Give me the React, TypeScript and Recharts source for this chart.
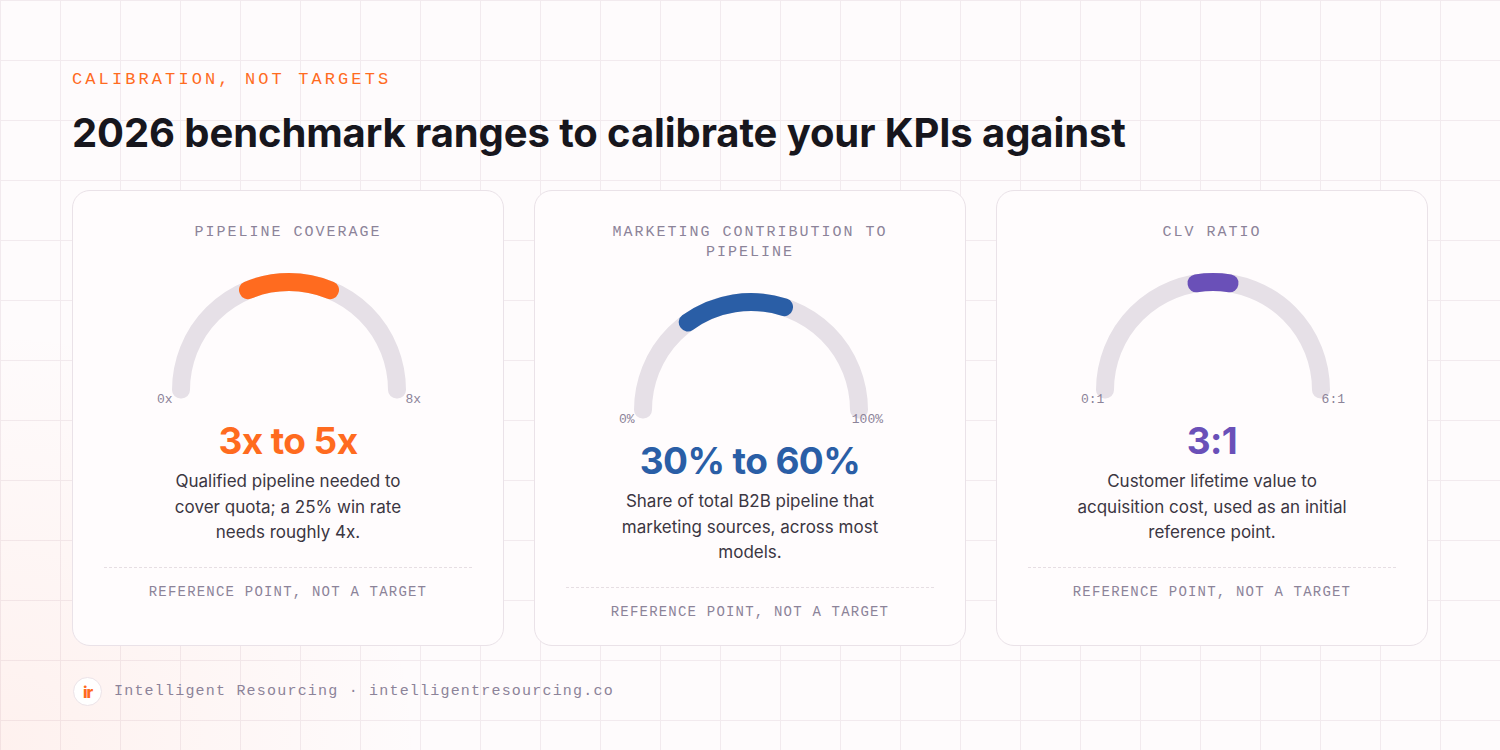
import React from 'react';
import { PieChart, Pie, Cell } from 'recharts';

// benchmark cards
const cardTitles = [['PIPELINE COVERAGE'], ['MARKETING CONTRIBUTION TO', 'PIPELINE'], ['CLV RATIO']];
const rangeLow = [3, 30, 2.7];
const rangeHigh = [5, 60, 3.3];
const scaleMax = [8, 100, 6];
const minLabels = ['0x', '0%', '0:1'];
const maxLabels = ['8x', '100%', '6:1'];
const headlines = ['3x to 5x', '30% to 60%', '3:1'];
const descriptions = [
  ['Qualified pipeline needed to', 'cover quota; a 25% win rate', 'needs roughly 4x.'],
  ['Share of total B2B pipeline that', 'marketing sources, across most', 'models.'],
  ['Customer lifetime value to', 'acquisition cost, used as an initial', 'reference point.'],
];
const accentColors = ['#FF6B1F', '#2A5EA6', '#6A50B8'];

const TRACK = '#E6E0E7';
const MUTED = '#8C8399';
const MONO = '"Liberation Mono", "DejaVu Sans Mono", monospace';
const SANS = 'Inter, "Noto Sans", sans-serif';

const Gauge = ({ low, high, max, color, minLabel, maxLabel }: any) => {
  const track = [{ name: 'track', value: max }];
  const band = [
    { name: 'below', value: low },
    { name: 'range', value: high - low },
    { name: 'above', value: max - high },
  ];
  const labelStyle: React.CSSProperties = {
    position: 'absolute',
    top: 141,
    fontFamily: MONO,
    fontSize: 13,
    lineHeight: '18px',
    color: MUTED,
  };
  return (
    <div style={{ position: 'relative', width: 370, height: 160, margin: '9px auto 0' }}>
      <PieChart width={370} height={160} margin={{ top: 0, right: 0, bottom: 0, left: 0 }}>
        <Pie
          data={track}
          dataKey="value"
          cx={185}
          cy={140}
          startAngle={180}
          endAngle={0}
          innerRadius={107.5}
          outerRadius={108.5}
          isAnimationActive={false}
        >
          <Cell fill={TRACK} stroke={TRACK} strokeWidth={17} strokeLinejoin="round" />
        </Pie>
        <Pie
          data={band}
          dataKey="value"
          cx={185}
          cy={140}
          startAngle={180}
          endAngle={0}
          innerRadius={107.5}
          outerRadius={108.5}
          isAnimationActive={false}
        >
          {band.map((d, i) => (
            <Cell
              key={d.name}
              fill={i === 1 ? color : 'none'}
              stroke={i === 1 ? color : 'none'}
              strokeWidth={i === 1 ? 17 : 0}
              strokeLinejoin="round"
            />
          ))}
        </Pie>
      </PieChart>
      <div style={{ ...labelStyle, left: 53 }}>{minLabel}</div>
      <div style={{ ...labelStyle, right: 53, textAlign: 'right' }}>{maxLabel}</div>
    </div>
  );
};

const Card = ({ i }: { i: number }) => (
  <div
    style={{
      width: 432,
      height: 456,
      boxSizing: 'border-box',
      border: '1.5px solid #EAE2E8',
      borderRadius: 18,
      background: '#FFFCFD',
      padding: '30px 31px 0',
      textAlign: 'center',
    }}
  >
    <div
      style={{
        position: 'relative',
        top: 2,
        fontFamily: MONO,
        fontSize: 15,
        lineHeight: '20px',
        letterSpacing: 2,
        color: MUTED,
      }}
    >
      {cardTitles[i].map((t) => (
        <div key={t}>{t}</div>
      ))}
    </div>
    <Gauge
      low={rangeLow[i]}
      high={rangeHigh[i]}
      max={scaleMax[i]}
      color={accentColors[i]}
      minLabel={minLabels[i]}
      maxLabel={maxLabels[i]}
    />
    <div
      style={{
        marginTop: 9,
        fontFamily: SANS,
        fontWeight: 700,
        fontSize: 37,
        lineHeight: '44px',
        letterSpacing: -0.6,
        color: accentColors[i],
      }}
    >
      {headlines[i]}
    </div>
    <div style={{ marginTop: 6, fontFamily: SANS, fontSize: 17, lineHeight: '25.5px', color: '#3B3642' }}>
      {descriptions[i].map((t) => (
        <div key={t}>{t}</div>
      ))}
    </div>
    <div style={{ marginTop: 21, borderTop: '1px dashed #E6DEE3' }} />
    <div
      style={{
        marginTop: 15,
        fontFamily: MONO,
        fontSize: 14,
        lineHeight: '18px',
        letterSpacing: 1.2,
        color: MUTED,
      }}
    >
      REFERENCE POINT, NOT A TARGET
    </div>
  </div>
);

export default function App() {
  return (
    <div
      style={{
        position: 'absolute',
        left: 0,
        top: 0,
        width: 1500,
        height: 750,
        overflow: 'hidden',
        backgroundColor: '#FEFBFC',
        backgroundImage:
          'radial-gradient(circle at 0% 100%, rgba(255,140,100,0.09), rgba(255,140,100,0) 420px), linear-gradient(to right, #F2EAEE 1px, transparent 1px), linear-gradient(to bottom, #F2EAEE 1px, transparent 1px)',
        backgroundSize: '100% 100%, 60px 60px, 60px 60px',
      }}
    >
      <div
        style={{
          position: 'absolute',
          left: 72,
          top: 70,
          fontFamily: MONO,
          fontSize: 17,
          lineHeight: '20px',
          letterSpacing: 3.1,
          color: '#FF6B1F',
        }}
      >
        CALIBRATION, NOT TARGETS
      </div>
      <div
        style={{
          position: 'absolute',
          left: 72,
          top: 108,
          fontFamily: SANS,
          fontWeight: 700,
          fontSize: 40,
          lineHeight: '50px',
          letterSpacing: -0.1,
          color: '#17161D',
        }}
      >
        2026 benchmark ranges to calibrate your KPIs against
      </div>
      <div style={{ position: 'absolute', left: 72, top: 190, display: 'flex', gap: 30 }}>
        {[0, 1, 2].map((i) => (
          <Card key={i} i={i} />
        ))}
      </div>
      <div style={{ position: 'absolute', left: 73, top: 677, display: 'flex', alignItems: 'center', gap: 12 }}>
        <div
          style={{
            width: 27,
            height: 27,
            borderRadius: '50%',
            background: '#FFFFFF',
            border: '1px solid #ECE3E8',
            display: 'flex',
            alignItems: 'center',
            justifyContent: 'center',
            fontFamily: SANS,
            fontWeight: 800,
            fontSize: 16,
            color: '#FF6B1F',
            letterSpacing: -1,
          }}
        >
          ir
        </div>
        <div style={{ fontFamily: MONO, fontSize: 15, letterSpacing: 1.2, color: MUTED }}>
          Intelligent Resourcing · intelligentresourcing.co
        </div>
      </div>
    </div>
  );
}
